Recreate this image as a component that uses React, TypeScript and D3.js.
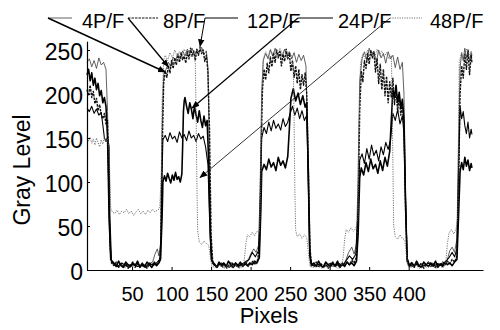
import { useEffect, useRef } from 'react';
import * as d3 from 'd3';

type Pt = [number, number];

// ---- data ----
const seriesNames = ['4P/F', '8P/F', '12P/F', '24P/F', '48P/F'];
const xTicks = [50, 100, 150, 200, 250, 300, 350, 400];
const yTicks = [0, 50, 100, 150, 200, 250];

const pf4: Pt[] = [
  [-7, 236], [-4, 240], [-1, 231], [2, 238], [5, 229], [8, 241], [11, 233], [14, 236], [17, 228], [19, 180], [21, 60], [23, 12],
  [26, 6], [31, 4], [36, 7], [41, 3], [46, 6], [51, 4], [56, 8], [61, 5], [66, 3], [71, 7], [76, 9], [79, 18], [82, 24], [84, 16], [86, 30],
  [88, 160], [90, 222], [93, 228], [96, 236], [99, 231], [102, 242], [105, 238], [108, 246], [111, 240], [114, 249], [117, 243], [120, 251],
  [123, 246], [126, 252], [129, 244], [132, 250], [135, 247], [138, 253], [141, 245], [144, 249], [146, 230], [148, 120], [150, 20], [152, 8],
  [156, 4], [161, 7], [166, 3], [171, 6], [176, 5], [181, 8], [186, 4], [191, 6], [196, 9], [200, 18], [204, 24], [207, 20], [210, 28],
  [212, 90], [214, 200], [216, 238], [219, 246], [222, 240], [225, 250], [228, 243], [231, 252], [234, 245], [237, 249], [240, 242], [243, 251],
  [246, 244], [249, 248], [252, 240], [255, 247], [258, 236], [261, 245], [264, 238], [267, 244], [270, 232], [272, 150], [274, 30], [276, 7],
  [281, 4], [286, 6], [291, 3], [296, 7], [301, 5], [306, 4], [311, 8], [316, 5], [320, 10], [324, 20], [328, 26], [331, 18], [334, 30],
  [336, 110], [338, 215], [341, 240], [344, 248], [347, 238], [350, 252], [353, 244], [356, 249], [359, 236], [362, 250], [365, 241], [368, 246],
  [371, 235], [374, 248], [377, 240], [380, 244], [383, 230], [386, 242], [389, 228], [392, 236], [394, 200], [396, 90], [398, 15], [400, 6],
  [405, 4], [410, 7], [415, 3], [420, 6], [425, 5], [430, 8], [435, 4], [440, 6], [445, 5], [449, 12], [452, 22], [455, 26], [458, 20], [461, 35],
  [463, 140], [465, 230], [467, 246], [469, 238], [471, 252], [473, 241], [475, 249], [477, 237], [479, 247], [480, 243],
];

const pf8: Pt[] = [
  [-7, 205], [-5, 198], [-3, 210], [-1, 196], [1, 203], [3, 189], [5, 195], [7, 181], [9, 188], [11, 176], [13, 172], [15, 178], [17, 166],
  [19, 170], [20, 120], [22, 30], [24, 8],
  [27, 5], [30, 9], [33, 3], [36, 7], [39, 4], [42, 8], [45, 2], [48, 6], [51, 9], [54, 3], [57, 7], [60, 4], [63, 8], [66, 5], [69, 2],
  [72, 7], [75, 5], [78, 9], [81, 6], [84, 10], [86, 14],
  [88, 130], [90, 212], [92, 226], [94, 219], [96, 232], [98, 224], [100, 238], [102, 229], [104, 241], [106, 233], [108, 244], [110, 236],
  [112, 247], [114, 239], [116, 243], [118, 235], [120, 248], [122, 240], [124, 252], [126, 243], [128, 249], [130, 238], [132, 251], [134, 244],
  [136, 253], [138, 246], [140, 250], [142, 237], [144, 244], [146, 225], [148, 160], [150, 40], [152, 10],
  [155, 6], [158, 3], [161, 8], [164, 4], [167, 7], [170, 2], [173, 6], [176, 9], [179, 4], [182, 7], [185, 3], [188, 8], [191, 5], [194, 9],
  [197, 4], [200, 7], [203, 10], [206, 6], [209, 12], [211, 25],
  [213, 120], [215, 205], [217, 228], [219, 216], [221, 235], [223, 224], [225, 242], [227, 231], [229, 247], [231, 236], [233, 250], [235, 241],
  [237, 248], [239, 232], [241, 245], [243, 237], [245, 251], [247, 240], [249, 246], [251, 226], [253, 238], [255, 219], [257, 232], [259, 212],
  [261, 228], [263, 205], [265, 222], [267, 210], [269, 224], [271, 200], [273, 120], [275, 25], [277, 8],
  [280, 5], [283, 9], [286, 3], [289, 7], [292, 4], [295, 8], [298, 2], [301, 6], [304, 9], [307, 4], [310, 7], [313, 3], [316, 8], [319, 5],
  [322, 9], [325, 6], [328, 11], [331, 8], [334, 15],
  [336, 60], [338, 180], [340, 226], [342, 214], [344, 238], [346, 229], [348, 246], [350, 234], [352, 250], [354, 241], [356, 247], [358, 225],
  [360, 240], [362, 212], [364, 234], [366, 205], [368, 228], [370, 198], [372, 220], [374, 190], [376, 214], [378, 196], [380, 218], [382, 188],
  [384, 206], [386, 180], [388, 198], [390, 176], [392, 190], [394, 160], [396, 70], [398, 12],
  [401, 5], [404, 9], [407, 3], [410, 7], [413, 4], [416, 8], [419, 2], [422, 6], [425, 9], [428, 4], [431, 7], [434, 3], [437, 8], [440, 5],
  [443, 9], [446, 6], [449, 10], [452, 7], [455, 12], [458, 9], [461, 16],
  [463, 90], [465, 200], [467, 232], [469, 218], [471, 245], [473, 228], [475, 250], [477, 222], [479, 244], [480, 236],
];

const pf12: Pt[] = [
  [-7, 184], [-4, 180], [-1, 186], [2, 178], [5, 183], [8, 176], [11, 179], [13, 165], [15, 150], [17, 146], [19, 151], [21, 140], [22, 60], [24, 10],
  [27, 7], [32, 4], [37, 8], [42, 5], [47, 3], [52, 7], [57, 4], [62, 6], [67, 3], [72, 8], [77, 5], [82, 9], [85, 12], [87, 40],
  [88, 110], [89, 148], [92, 153], [95, 146], [98, 156], [101, 149], [104, 152], [107, 145], [110, 157], [113, 150], [116, 154], [119, 147],
  [122, 158], [125, 150], [128, 153], [131, 146], [134, 155], [137, 149], [140, 152], [143, 140], [146, 120], [148, 60], [150, 12], [153, 6],
  [158, 4], [163, 8], [168, 5], [173, 3], [178, 7], [183, 4], [188, 6], [193, 9], [198, 12], [202, 20], [206, 15], [210, 22],
  [212, 60], [214, 150], [217, 162], [220, 155], [223, 168], [226, 158], [229, 170], [232, 161], [235, 166], [238, 159], [241, 172], [244, 163],
  [247, 168], [250, 178], [253, 186], [256, 176], [259, 184], [262, 172], [265, 181], [268, 170], [271, 176], [273, 100], [275, 20], [277, 6],
  [282, 4], [287, 7], [292, 3], [297, 6], [302, 8], [307, 4], [312, 7], [317, 5], [321, 11], [325, 16], [329, 12], [333, 18],
  [336, 70], [338, 125], [341, 132], [344, 121], [347, 138], [350, 126], [353, 142], [356, 130], [359, 136], [362, 124], [365, 140], [368, 131],
  [371, 145], [374, 137], [377, 148], [380, 178], [383, 170], [386, 182], [389, 166], [392, 175], [394, 155], [396, 80], [398, 14], [401, 6],
  [406, 4], [411, 7], [416, 3], [421, 6], [426, 8], [431, 4], [436, 7], [441, 5], [446, 9], [451, 14], [455, 20], [458, 15], [461, 24],
  [463, 110], [465, 186], [467, 172], [469, 180], [471, 164], [473, 155], [475, 168], [477, 150], [479, 160], [480, 154],
];

const pf24: Pt[] = [
  [-7, 222], [-5, 228], [-3, 215], [-1, 224], [1, 210], [3, 218], [5, 205], [7, 212], [9, 198], [11, 204], [13, 190], [15, 196], [17, 186],
  [19, 150], [21, 60], [23, 12],
  [27, 8], [30, 4], [33, 10], [36, 5], [39, 3], [42, 9], [45, 6], [48, 4], [51, 8], [54, 5], [57, 10], [60, 3], [63, 7], [66, 4], [69, 9],
  [72, 6], [75, 3], [78, 8], [81, 5], [84, 8], [86, 12], [88, 60],
  [89, 100], [91, 107], [93, 101], [95, 110], [97, 104], [99, 99], [101, 108], [103, 102], [105, 111], [107, 103], [109, 106], [111, 100],
  [113, 109], [114, 140], [115, 180], [116, 192], [117, 196], [119, 186], [121, 178], [123, 190], [125, 183], [127, 172], [129, 186], [131, 176],
  [133, 168], [135, 181], [137, 170], [139, 162], [141, 175], [143, 164], [145, 170], [147, 120], [149, 40], [151, 10],
  [154, 7], [157, 3], [160, 9], [163, 5], [166, 8], [169, 4], [172, 10], [175, 6], [178, 3], [181, 8], [184, 5], [187, 9], [190, 4], [193, 7],
  [196, 5], [199, 8], [202, 6], [205, 10], [208, 8], [211, 14],
  [213, 70], [214, 112], [217, 120], [220, 114], [223, 126], [226, 117], [229, 122], [232, 113], [235, 128], [238, 119], [241, 124], [244, 116],
  [247, 129], [249, 160], [251, 195], [254, 206], [257, 192], [260, 201], [263, 188], [266, 198], [269, 185], [271, 190], [273, 110], [275, 15], [277, 5],
  [280, 8], [283, 4], [286, 10], [289, 5], [292, 3], [295, 9], [298, 6], [301, 4], [304, 8], [307, 5], [310, 10], [313, 3], [316, 7], [319, 4],
  [322, 9], [325, 6], [328, 8], [331, 5], [334, 10],
  [336, 40], [338, 105], [340, 116], [343, 108], [346, 122], [349, 112], [352, 126], [355, 115], [358, 120], [361, 110], [364, 124], [367, 113],
  [370, 128], [373, 118], [376, 135], [378, 170], [380, 205], [382, 196], [384, 210], [386, 190], [388, 202], [390, 184], [392, 194], [394, 170],
  [396, 75], [398, 10], [401, 4],
  [404, 8], [407, 4], [410, 10], [413, 5], [416, 3], [419, 9], [422, 6], [425, 4], [428, 8], [431, 5], [434, 10], [437, 3], [440, 7], [443, 4],
  [446, 9], [449, 6], [452, 8], [455, 5], [458, 9], [461, 12],
  [463, 60], [465, 112], [467, 122], [469, 114], [471, 128], [473, 118], [475, 125], [477, 113], [479, 121], [480, 116],
];

const pf48: Pt[] = [
  [-7, 150], [-5, 146], [-3, 151], [-1, 144], [1, 149], [3, 142], [5, 150], [7, 145], [9, 140], [11, 148], [13, 143], [15, 151], [17, 146],
  [19, 149], [21, 140], [22, 100], [23, 70], [25, 66],
  [28, 64], [31, 68], [34, 63], [37, 67], [40, 65], [43, 69], [46, 64], [49, 67], [52, 62], [55, 66], [58, 69], [61, 64], [64, 67], [67, 63],
  [70, 68], [73, 65], [76, 69], [79, 66], [82, 68], [85, 70], [87, 110], [88, 190], [90, 238],
  [92, 244], [95, 238], [98, 247], [101, 241], [104, 250], [107, 243], [110, 248], [113, 240], [116, 251], [119, 245], [122, 249], [125, 242],
  [128, 247], [130, 235], [131, 180], [132, 100], [133, 45], [135, 32], [138, 29], [141, 33], [144, 30], [147, 28], [149, 15], [151, 4],
  [156, 3], [161, 5], [166, 2], [171, 4], [176, 3], [181, 5], [186, 2], [190, 4], [192, 12], [194, 30], [196, 40], [199, 38], [202, 43],
  [205, 39], [208, 44], [211, 42], [213, 100], [214, 200], [216, 240],
  [219, 248], [222, 242], [225, 251], [228, 245], [231, 249], [234, 243], [237, 252], [240, 246], [243, 250], [246, 241], [249, 248], [252, 244],
  [254, 230], [255, 170], [256, 90], [257, 45], [259, 38], [262, 41], [265, 36], [268, 40], [271, 37], [273, 20], [275, 4],
  [280, 3], [285, 5], [290, 2], [295, 4], [300, 3], [305, 5], [310, 2], [315, 4], [317, 14], [319, 35], [321, 46], [324, 43], [327, 48],
  [330, 44], [333, 47], [336, 60], [337, 150], [339, 235],
  [342, 246], [345, 240], [348, 250], [351, 243], [354, 248], [357, 241], [360, 251], [363, 244], [366, 249], [369, 242], [372, 247], [375, 240],
  [378, 244], [379, 200], [380, 120], [381, 50], [383, 38], [386, 35], [389, 40], [392, 36], [395, 34], [397, 18], [399, 4],
  [404, 3], [409, 5], [414, 2], [419, 4], [424, 3], [429, 5], [434, 2], [439, 4], [444, 3], [447, 10], [449, 30], [451, 42], [454, 46],
  [457, 41], [460, 47], [462, 60], [463, 160], [464, 236],
  [467, 248], [470, 240], [473, 251], [476, 244], [479, 249], [480, 245],
];

const seriesData: Pt[][] = [pf4, pf8, pf12, pf24, pf48];

// where each legend arrow lands, in data units (pixel, gray level)
const arrowTargets: Pt[] = [[92, 225], [96, 231], [136, 254], [126, 184], [136, 105]];

// ---- layout / styles ----
const WIDTH = 500;
const HEIGHT = 330;
const FONT = "'Liberation Sans', Arial, Helvetica, sans-serif";
const lineStyles = [
  { stroke: '#3a3a3a', width: 0.8, dash: '' },
  { stroke: '#111', width: 1.4, dash: '2.5 1' },
  { stroke: '#000', width: 1.1, dash: '' },
  { stroke: '#000', width: 1.6, dash: '' },
  { stroke: '#666', width: 0.9, dash: '1.2 1.2' },
];
const legendLineX = [[48, 72], [128, 158], [205, 238], [298, 333], [390, 422]];
const legendTextX = [82, 163, 247, 338, 430];
const arrowWidths = [1.4, 1.3, 1.0, 1.2, 0.8];

const App = () => {
  const svgRef = useRef<SVGSVGElement>(null);

  useEffect(() => {
    if (!svgRef.current) return;
    const svg = d3.select(svgRef.current);
    svg.selectAll('*').remove();

    const x = d3.scaleLinear().domain([-7, 494]).range([87, 483]);
    const y = d3.scaleLinear().domain([0, 260]).range([270, 41.2]);

    svg.append('defs')
      .append('marker')
      .attr('id', 'arrowhead')
      .attr('viewBox', '0 0 10 10')
      .attr('refX', 9)
      .attr('refY', 5)
      .attr('markerWidth', 8)
      .attr('markerHeight', 8)
      .attr('markerUnits', 'userSpaceOnUse')
      .attr('orient', 'auto')
      .append('path')
      .attr('d', 'M0,1 L10,5 L0,9 Z')
      .attr('fill', '#000');

    // series
    const line = d3.line<Pt>()
      .x(d => x(d[0]))
      .y(d => y(d[1]));

    seriesData.forEach((data, i) => {
      const st = lineStyles[i];
      svg.append('path')
        .datum(data)
        .attr('fill', 'none')
        .attr('stroke', st.stroke)
        .attr('stroke-width', st.width)
        .attr('stroke-dasharray', st.dash || null)
        .attr('stroke-linejoin', 'round')
        .attr('d', line);
    });

    // axes
    const xAxis = svg.append('g')
      .attr('transform', 'translate(0, 270)')
      .call(d3.axisBottom(x).tickValues(xTicks).tickSizeInner(-3).tickSizeOuter(0).tickPadding(17));
    xAxis.select('.domain').attr('stroke', '#000').attr('stroke-width', 1.2);
    xAxis.selectAll('text')
      .attr('font-family', FONT)
      .attr('font-size', '20px')
      .attr('fill', '#000');

    const yAxis = svg.append('g')
      .attr('transform', 'translate(87, 0)')
      .call(d3.axisLeft(y).tickValues(yTicks).tickSizeInner(-3).tickSizeOuter(0).tickPadding(4));
    yAxis.select('.domain').attr('stroke', '#000').attr('stroke-width', 1.2);
    yAxis.selectAll('text')
      .attr('font-family', FONT)
      .attr('font-size', '23px')
      .attr('dy', '0.4em')
      .attr('fill', '#000');

    // axis titles
    svg.append('text')
      .attr('transform', 'translate(30, 170) rotate(-90)')
      .attr('text-anchor', 'middle')
      .attr('font-family', FONT)
      .attr('font-size', '23px')
      .text('Gray Level');

    svg.append('text')
      .attr('x', 269)
      .attr('y', 323)
      .attr('text-anchor', 'middle')
      .attr('font-family', FONT)
      .attr('font-size', '22px')
      .text('Pixels');

    // legend with pointer arrows
    seriesNames.forEach((name, i) => {
      const st = lineStyles[i];
      const [x1, x2] = legendLineX[i];
      svg.append('line')
        .attr('x1', x1).attr('x2', x2)
        .attr('y1', 18).attr('y2', 18)
        .attr('stroke', st.stroke)
        .attr('stroke-width', Math.min(st.width, 1.2))
        .attr('stroke-dasharray', st.dash || null);

      const [tx, ty] = arrowTargets[i];
      svg.append('line')
        .attr('x1', x1).attr('y1', 18)
        .attr('x2', x(tx)).attr('y2', y(ty))
        .attr('stroke', '#000')
        .attr('stroke-width', arrowWidths[i])
        .attr('marker-end', 'url(#arrowhead)');

      svg.append('text')
        .attr('x', legendTextX[i])
        .attr('y', 28)
        .attr('font-family', FONT)
        .attr('font-size', '20px')
        .text(name);
    });
  }, []);

  return (
    <svg
      ref={svgRef}
      width={WIDTH}
      height={HEIGHT}
      style={{ position: 'absolute', left: 0, top: 0, background: '#fff' }}
    />
  );
};

export default App;
